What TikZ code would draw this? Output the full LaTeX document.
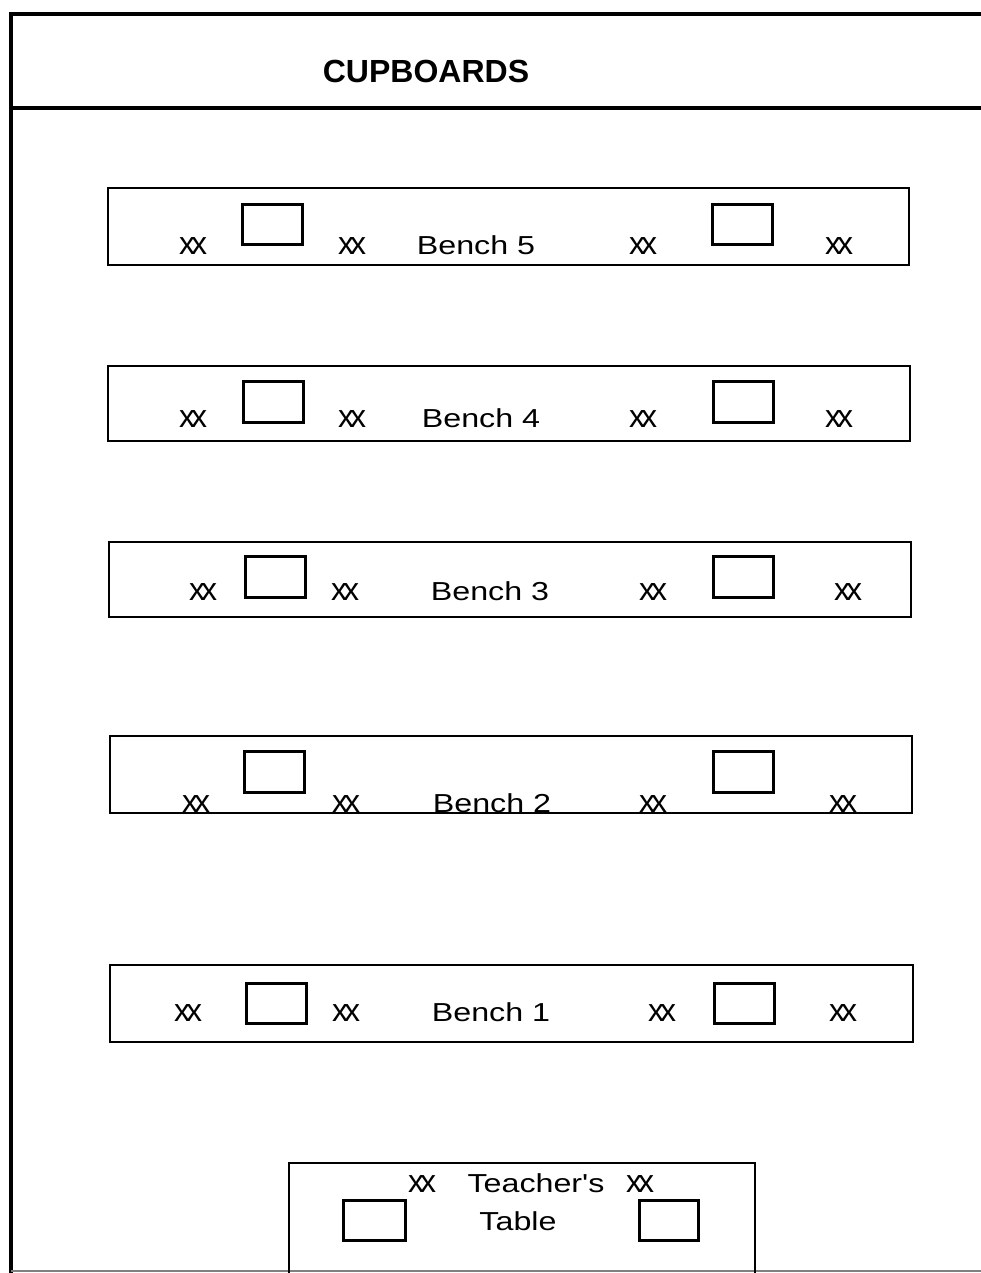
\documentclass[tikz,border=0pt]{standalone}
\usepackage{fontspec}
\setmainfont{Liberation Sans}
\usepackage{graphicx}
\newcommand\bwide[1]{\scalebox{1.24}[1]{#1}}
\newcommand\xxmark{x\kern-2pt x}
\begin{document}
\begin{tikzpicture}[x=0.5pt,y=-0.5pt,
  frame/.style={line width=2.2pt},
  benchbox/.style={line width=1.35pt},
  seat/.style={line width=1.5pt},
  lbl/.style={font=\fontsize{13}{14}\selectfont, anchor=base, inner sep=0pt},
  pp/.style={font=\fontsize{16}{16}\selectfont, anchor=base, inner sep=0pt},
]
\useasboundingbox (0,0) rectangle (980,1273);
% room outline
\draw[frame] (981,14) -- (11,14) -- (11,1275);
\draw[line width=2pt] (11,108) -- (981,108);
\draw[gray, line width=0.6pt] (11,1271) -- (981,1271);
\node[font=\bfseries\fontsize{16}{16}\selectfont, anchor=base, inner sep=0pt] (cup) at (426,83) {CUPBOARDS};
% benches
\foreach \n/\l/\t/\r/\b/\pa/\pb/\py/\pz/\base/\xa/\xb/\lx/\xc/\xd in {
  5/108/188/909/265/242/712/205/245/255/193/352/476/643/839,
  4/108/366/910/441/243/713/381/422/427/193/352/481/643/839,
  3/109/542/911/617/245/713/556/597/600/203/345/490/653/848,
  2/110/736/912/813/244/713/751/792/812/196/346/492/653/843,
  1/110/965/913/1042/246/714/983/1023/1021/188/346/491/662/843}{
  \node[lbl] (bench\n) at (\lx,\base) {\bwide{Bench \n}};
  \node[pp] (b\n xa) at (\xa,\base) {\xxmark};
  \node[pp] (b\n xb) at (\xb,\base) {\xxmark};
  \node[pp] (b\n xc) at (\xc,\base) {\xxmark};
  \node[pp] (b\n xd) at (\xd,\base) {\xxmark};
  \draw[benchbox] (\l,\t) rectangle (\r,\b);
  \draw[seat] (\pa,\py) rectangle ++(60,\pz-\py);
  \draw[seat] (\pb,\py) rectangle ++(60,\pz-\py);
}
% teacher's table
\node[lbl] (teach) at (536,1192) {\bwide{Teacher\textquotesingle s}};
\node[lbl] (table) at (518,1230) {\bwide{Table}};
\node[pp] (txa) at (422,1192) {\xxmark};
\node[pp] (txb) at (640,1192) {\xxmark};
\draw[benchbox] (289,1280) -- (289,1163) -- (755,1163) -- (755,1280);
\draw[seat] (343,1200) rectangle (405,1240);
\draw[seat] (639,1200) rectangle (698,1240);
\end{tikzpicture}
\end{document}
